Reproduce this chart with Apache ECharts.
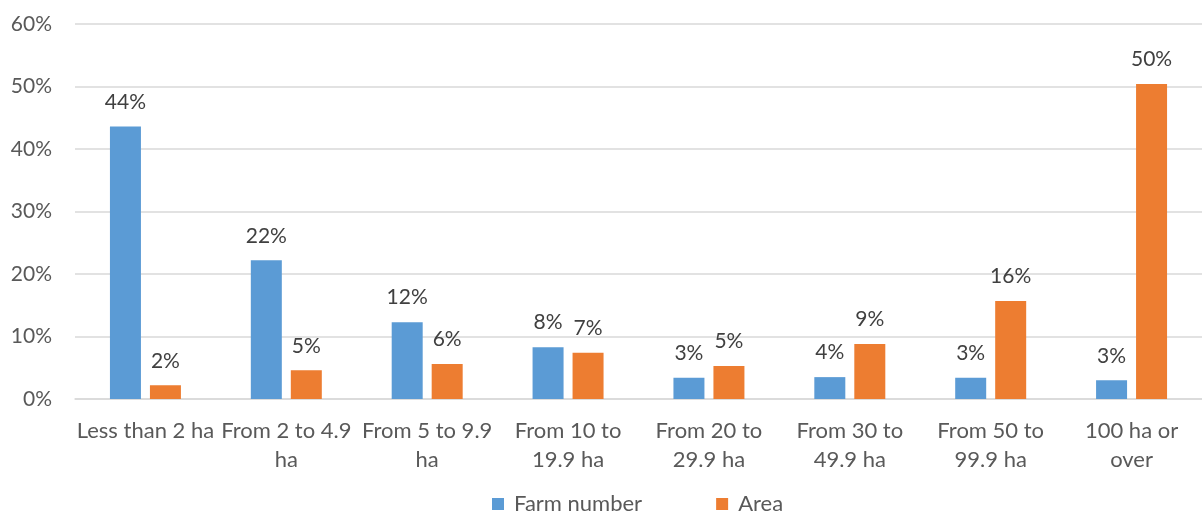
<!DOCTYPE html>
<html>
<head>
<meta charset="utf-8">
<script src="https://cdn.jsdelivr.net/npm/echarts@6/dist/echarts.min.js"></script>
<style>
  html, body { margin: 0; padding: 0; background: #fff; }
  #chart { width: 1202px; height: 515px; }
</style>
</head>
<body>
<div id="chart"></div>
<script>
  // 分类与数值
  var categories = ['Less than 2 ha', 'From 2 to 4.9\nha', 'From 5 to 9.9\nha', 'From 10 to\n19.9 ha',
    'From 20 to\n29.9 ha', 'From 30 to\n49.9 ha', 'From 50 to\n99.9 ha', '100 ha or\nover']
  var farmNumber = [43.6, 22.2, 12.3, 8.3, 3.4, 3.5, 3.4, 3.0]
  var area = [2.2, 4.6, 5.6, 7.4, 5.3, 8.8, 15.7, 50.4]
  var seriesNames = ['Farm number', 'Area']

  var font = 'Lato, "Open Sans", sans-serif'
  var chart = echarts.init(document.getElementById('chart'))

  function bar(name, data, color) {
    return {
      name: name,
      type: 'bar',
      data: data,
      barWidth: 31,
      barGap: '29%',
      itemStyle: { color: color },
      label: {
        show: true,
        position: 'top',
        distance: 14,
        color: '#404040',
        fontFamily: font,
        fontSize: 21,
        formatter: function(p) { return Math.round(p.value) + '%' }
      }
    }
  }

  chart.setOption({
    animation: false,
    backgroundColor: '#fff',
    grid: { left: 75, right: 0, top: 24, bottom: 116 },
    // 图例居中于绘图区，而不是整个画布
    legend: {
      bottom: 0,
      left: 492,
      padding: 0,
      itemWidth: 12,
      itemHeight: 12,
      itemGap: 74,
      icon: 'rect',
      textStyle: { color: '#595959', fontFamily: font, fontSize: 22, padding: [0, 0, 0, 5] },
      data: seriesNames
    },
    xAxis: {
      type: 'category',
      data: categories,
      axisLine: { lineStyle: { color: '#D9D9D9', width: 1.5 } },
      axisTick: { show: false },
      axisLabel: {
        color: '#595959',
        fontFamily: font,
        fontSize: 22,
        lineHeight: 29,
        margin: 17,
        interval: 0
      }
    },
    yAxis: {
      type: 'value',
      min: 0,
      max: 60,
      interval: 10,
      axisLine: { show: false },
      axisTick: { show: false },
      splitLine: { lineStyle: { color: '#D9D9D9', width: 1.5 } },
      axisLabel: {
        color: '#595959',
        fontFamily: font,
        fontSize: 21,
        margin: 23,
        formatter: '{value}%'
      }
    },
    series: [
      bar(seriesNames[0], farmNumber, '#5B9BD5'),
      bar(seriesNames[1], area, '#ED7D31')
    ]
  })
</script>
</body>
</html>
